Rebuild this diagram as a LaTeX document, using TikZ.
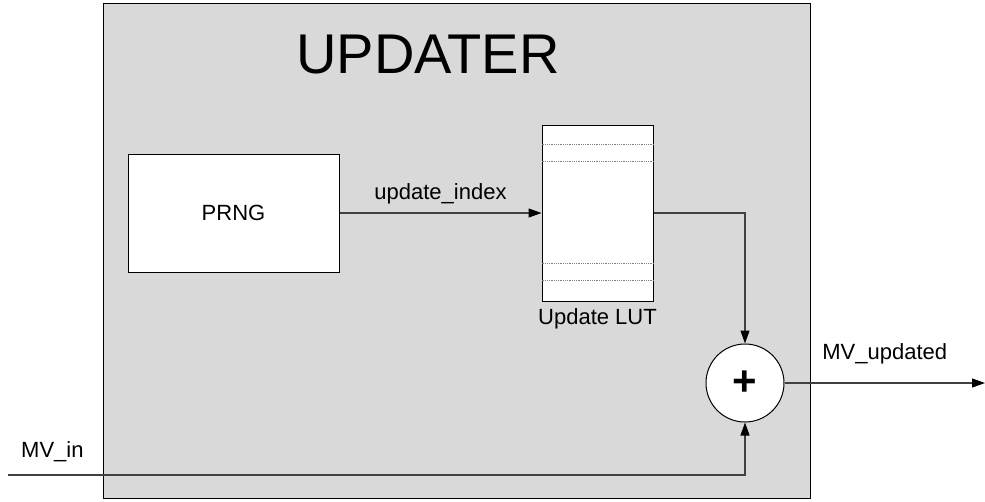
\documentclass[tikz,border=0pt]{standalone}
\usepackage{fontspec}
\setmainfont{Liberation Sans}
\usetikzlibrary{arrows.meta,positioning}
\definecolor{panel}{HTML}{D9D9D9}
\definecolor{wire}{HTML}{404040}
\tikzset{blk/.style={draw=black,fill=white,line width=1pt,inner sep=0pt},lbl/.style={font=\fontsize{22}{24}\selectfont,inner sep=0pt},arr/.style={-{Triangle[length=13pt,width=9pt,fill=black,color=black]},line width=1.2pt,draw=wire},row/.style={draw=gray,line width=0.8pt,densely dotted}}
\begin{document}
\begin{tikzpicture}[x=1pt,y=-1pt]
\useasboundingbox (0,0) rectangle (985,501);
\node[draw=black,fill=panel,line width=1.2pt,minimum width=707pt,minimum height=495pt,anchor=north west] (upd) at (103,3) {};
\node[font=\fontsize{56}{60}\selectfont,anchor=base,inner sep=0pt] (title) at (428,73) {UPDATER};
\node[blk,lbl,minimum width=211pt,minimum height=118pt] (prng) at (233.5,213) {PRNG};
\node[blk,minimum width=111pt,minimum height=176pt] (lut) at (597.5,213) {};
% table rows at top and bottom of the LUT
\foreach \d in {20,37,139,156} \draw[row] ([yshift=-\d pt]lut.north west)--([yshift=-\d pt]lut.north east);
\node[lbl,below=7pt of lut] (lutname) {Update LUT};
\node[circle,draw=black,fill=white,line width=1pt,minimum size=78pt,inner sep=0pt,font=\bfseries\fontsize{42}{42}\selectfont] (sum) at (745,383) {+};
\coordinate (in) at (8,475);\coordinate (out) at (985,383);
\draw[arr] (prng.east)--node[lbl,above=8pt] {update\_index} (lut.west);
\draw[arr] (lut.east)-|(sum.north);
\draw[arr] (in)-|(sum.south);
\draw[arr] (sum.east)--node[lbl,above=18pt] {MV\_updated} (out);
\node[lbl,anchor=base west] (mvin) at (21,457) {MV\_in};
\end{tikzpicture}
\end{document}
